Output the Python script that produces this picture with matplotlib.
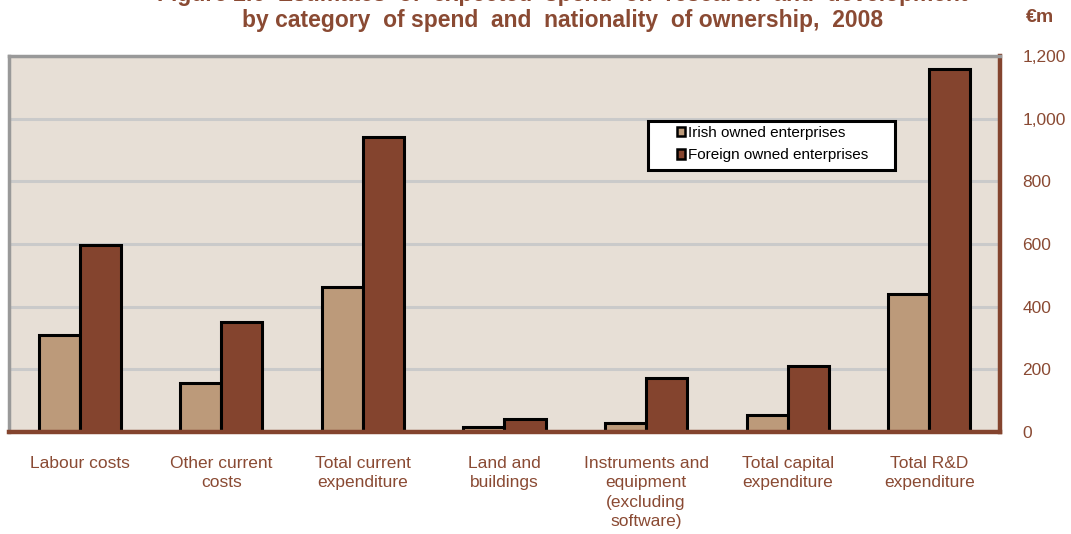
import matplotlib
matplotlib.use("Agg")
import matplotlib.pyplot as plt
import numpy as np
from matplotlib.patches import Patch, Rectangle

plt.rcParams['font.family'] = ['Liberation Sans', 'DejaVu Sans']

categories = ["Labour costs", "Other current\ncosts", "Total current\nexpenditure",
              "Land and\nbuildings", "Instruments and\nequipment\n(excluding\nsoftware)",
              "Total capital\nexpenditure", "Total R&D\nexpenditure"]
irish = [308, 157, 462, 16, 29, 55, 440]
foreign = [597, 350, 943, 42, 173, 212, 1158]
series_names = ["Irish owned enterprises", "Foreign owned enterprises"]
yticks = [0, 200, 400, 600, 800, 1000, 1200]
ytick_labels = ["0", "200", "400", "600", "800", "1,000", "1,200"]

BROWN = "#84442E"
TAN = "#BC9A7A"
BG = "#E7DFD6"
GRID = "#CACACA"
FRAME = "#999999"
TEXT = "#8A4A33"

W, H = 1071, 534
fig = plt.figure(figsize=(W / 100, H / 100), dpi=100)
ax = fig.add_axes([9 / W, 1 - 432 / H, (1000 - 9) / W, (432 - 56) / H])
ax.set_facecolor(BG)

x = np.arange(len(categories))
bw = 0.29
ax.bar(x - bw / 2, irish, bw, color=TAN, edgecolor="black", linewidth=2.2, zorder=3)
ax.bar(x + bw / 2, foreign, bw, color=BROWN, edgecolor="black", linewidth=2.2, zorder=3)

ax.set_xlim(-0.5, len(categories) - 0.5)
ax.set_ylim(0, 1200)
ax.yaxis.tick_right()
ax.set_yticks(yticks)
ax.set_yticklabels(ytick_labels)
ax.tick_params(axis="y", length=0, pad=16, labelsize=12.5, labelcolor=TEXT)
ax.set_xticks(x)
ax.set_xticklabels(categories, linespacing=1.38)
ax.tick_params(axis="x", length=0, pad=17, labelsize=12.5, labelcolor=TEXT)

ax.grid(axis="y", color=GRID, linewidth=2.2, zorder=1)
ax.set_axisbelow(True)

for side in ("left", "top"):
    ax.spines[side].set_color(FRAME)
    ax.spines[side].set_linewidth(2.5)
for side in ("right", "bottom"):
    ax.spines[side].set_color(BROWN)
    ax.spines[side].set_linewidth(3.2)
ax.spines["bottom"].set_zorder(5)

# Two-line title; the first line sits partly above the top edge
fig.text(0.525, 1 + 5 / H, "Figure 2.6  Estimates  of  expected  spend  on  research  and  development",
         ha="center", va="center", fontsize=16.5, fontweight="bold", color=TEXT)
fig.text(0.525, 1 - 21 / H, "by category  of spend  and  nationality  of ownership,  2008",
         ha="center", va="center", fontsize=16.5, fontweight="bold", color=TEXT)
fig.text(1040 / W, 1 - 18 / H, "€m", ha="center", va="center", fontsize=14,
         fontweight="bold", color=TEXT)

# Legend with its own frame
fig.patches.append(Rectangle((648 / W, 1 - 170 / H), (895 - 648) / W, (170 - 121) / H,
                             transform=fig.transFigure, facecolor="white",
                             edgecolor="black", linewidth=2.2, zorder=4))
handles = [Patch(facecolor=TAN, edgecolor="black", linewidth=1.8),
           Patch(facecolor=BROWN, edgecolor="black", linewidth=1.8)]
leg = fig.legend(handles, series_names, loc="upper left",
                 bbox_to_anchor=(674 / W, 1 - 123 / H), frameon=False,
                 fontsize=11, handlelength=0.55, handleheight=0.55,
                 handletextpad=0.15, labelspacing=0.55, borderpad=0.2,
                 borderaxespad=0)
leg.set_zorder(6)

fig.savefig("out.png", dpi=100, facecolor="white")
